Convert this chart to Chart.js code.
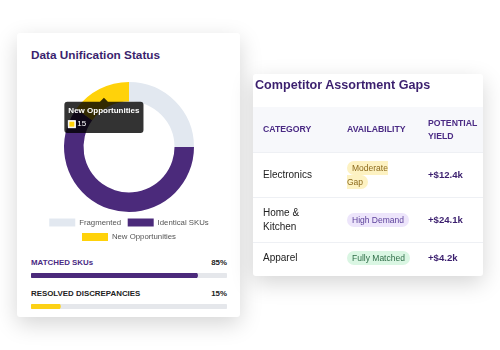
<!DOCTYPE html>
<html>
<head>
<meta charset="utf-8">
<script src="https://cdn.jsdelivr.net/npm/chart.js"></script>
<style>
    body { margin: 0; width: 500px; height: 350px; background: #fff; position: relative; overflow: hidden;
           font-family: "Liberation Sans", Arial, sans-serif; }
    .card { position: absolute; background: #fff; border-radius: 3px; box-shadow: 0 7px 22px rgba(0,0,0,0.17); }
    #leftCard { left: 17px; top: 33px; width: 223px; height: 284px; }
    #rightCard { left: 253px; top: 74px; width: 230px; height: 202px; overflow: hidden; }
    .title { position: absolute; font-weight: bold; color: #3b1f6e; white-space: nowrap; }
    #leftTitle { left: 14px; top: 16px; font-size: 11.8px; line-height: 13px; }
    #rightTitle { left: 2px; top: 4px; font-size: 12.6px; line-height: 14px; }
    #donutBox { position: absolute; left: 14px; top: 49px; width: 196px; height: 169px; }
    .prog { position: absolute; left: 14px; width: 196px; }
    .prog .row { display: flex; justify-content: space-between; font-size: 7.9px; font-weight: bold; line-height: 10px; color: #222; }
    .prog .bar { margin-top: 5px; height: 5px; position: relative; }
    table { position: absolute; left: 0; top: 33px; width: 230px; border-collapse: collapse; table-layout: fixed; }
    th { background: #f7f8fb; color: #4a2a84; font-size: 8.7px; font-weight: bold; text-align: left;
         padding: 9.5px 8px; line-height: 13px; }
    td { font-size: 10px; color: #222; padding: 8px 8px; line-height: 14px; border-top: 1px solid #eef0f4; }
    th:first-child, td:first-child { padding-left: 10px; }
    td:nth-child(2) { padding-right: 16px; }
    td.yield { font-weight: bold; color: #3b1f6e; font-size: 9.6px; }
    .badge { font-size: 8.5px; padding: 2px 5px; border-radius: 8px; white-space: nowrap; }
    .badge.warn { white-space: normal; background: #fdf2c2; color: #8c6a1c; }
    .badge.info { background: #ede5fb; color: #5b3f9a; }
    .badge.ok { background: #daf6e3; color: #2f6e48; }
</style>
</head>
<body>
<div class="card" id="leftCard">
    <div class="title" id="leftTitle">Data Unification Status</div>
    <div id="donutBox"><canvas id="donutChart"></canvas></div>
    <div class="prog" style="top:225px">
        <div class="row"><span id="pl0" style="color:#4a2a84"></span><span id="pv0"></span></div>
        <div class="bar"><canvas id="progChart0"></canvas></div>
    </div>
    <div class="prog" style="top:256px">
        <div class="row"><span id="pl1"></span><span id="pv1"></span></div>
        <div class="bar"><canvas id="progChart1"></canvas></div>
    </div>
</div>

<div class="card" id="rightCard">
    <div class="title" id="rightTitle">Competitor Assortment Gaps</div>
    <table>
        <colgroup><col style="width:86px"><col style="width:81px"><col style="width:63px"></colgroup>
        <thead><tr id="gapHead"></tr></thead>
        <tbody id="gapBody"></tbody>
    </table>
</div>

<script>
// doughnut
const donutLabels = ['Fragmented', 'Identical SKUs', 'New Opportunities'];
const donutValues = [25, 60, 15];
const donutColors = ['#e2e8f0', '#4b2a7b', '#ffd20a'];

// progress bars
const progLabels = ['MATCHED SKUs', 'RESOLVED DISCREPANCIES'];
const progValues = [85, 15];
const progColors = ['#4b2a7b', '#fcd116'];

// table
const gapColumns = ['CATEGORY', 'AVAILABILITY', 'POTENTIAL YIELD'];
const gapCategories = ['Electronics', 'Home & Kitchen', 'Apparel'];
const gapStatus = ['Moderate Gap', 'High Demand', 'Fully Matched'];
const gapStatusType = ['warn', 'info', 'ok'];
const gapYield = ['+$12.4k', '+$24.1k', '+$4.2k'];

const donut = new Chart(document.getElementById('donutChart'), {
    type: 'doughnut',
    data: {
        labels: donutLabels,
        datasets: [{ data: donutValues, backgroundColor: donutColors, borderWidth: 0, hoverOffset: 0 }]
    },
    options: {
        responsive: true,
        maintainAspectRatio: false,
        animation: false,
        cutout: '70%',
        layout: { padding: 0 },
        plugins: {
            legend: {
                position: 'bottom',
                labels: { boxWidth: 26, boxHeight: 8, padding: 6.5, color: '#555',
                          font: { family: 'Liberation Sans', size: 7.8 } }
            },
            tooltip: {
                backgroundColor: 'rgba(0,0,0,0.8)',
                titleFont: { family: 'Liberation Sans', size: 8, weight: 'bold' },
                bodyFont: { family: 'Liberation Sans', size: 8 },
                padding: 4,
                titleMarginBottom: 4,
                caretSize: 4,
                caretPadding: 0,
                cornerRadius: 3,
                boxWidth: 7,
                boxHeight: 7,
                xAlign: 'center',
                yAlign: 'top'
            }
        }
    }
});
donut.tooltip.setActiveElements([{ datasetIndex: 0, index: 2 }], { x: 0, y: 0 });
donut.update();

progValues.forEach((v, i) => {
    document.getElementById('pl' + i).textContent = progLabels[i];
    document.getElementById('pv' + i).textContent = v + '%';
    new Chart(document.getElementById('progChart' + i), {
        type: 'bar',
        data: {
            labels: [progLabels[i]],
            datasets: [
                { data: [v], backgroundColor: progColors[i], order: 1 },
                { data: [100], backgroundColor: '#e5e7eb', order: 2 }
            ]
        },
        options: {
            indexAxis: 'y',
            responsive: true,
            maintainAspectRatio: false,
            animation: false,
            layout: { padding: 0 },
            datasets: { bar: { grouped: false, barPercentage: 1, categoryPercentage: 1,
                               borderRadius: 3, borderSkipped: false } },
            scales: {
                x: { display: false, min: 0, max: 100 },
                y: { display: false }
            },
            plugins: { legend: { display: false }, tooltip: { enabled: false } }
        }
    });
});

const head = document.getElementById('gapHead');
head.innerHTML = gapColumns.map(c => `<th>${c}</th>`).join('');
const body = document.getElementById('gapBody');
gapCategories.forEach((c, i) => {
    body.innerHTML += `
        <tr>
            <td>${c.replace('&', '&amp;')}</td>
            <td><span class="badge ${gapStatusType[i]}">${gapStatus[i]}</span></td>
            <td class="yield">${gapYield[i]}</td>
        </tr>`;
});
</script>
</body>
</html>
